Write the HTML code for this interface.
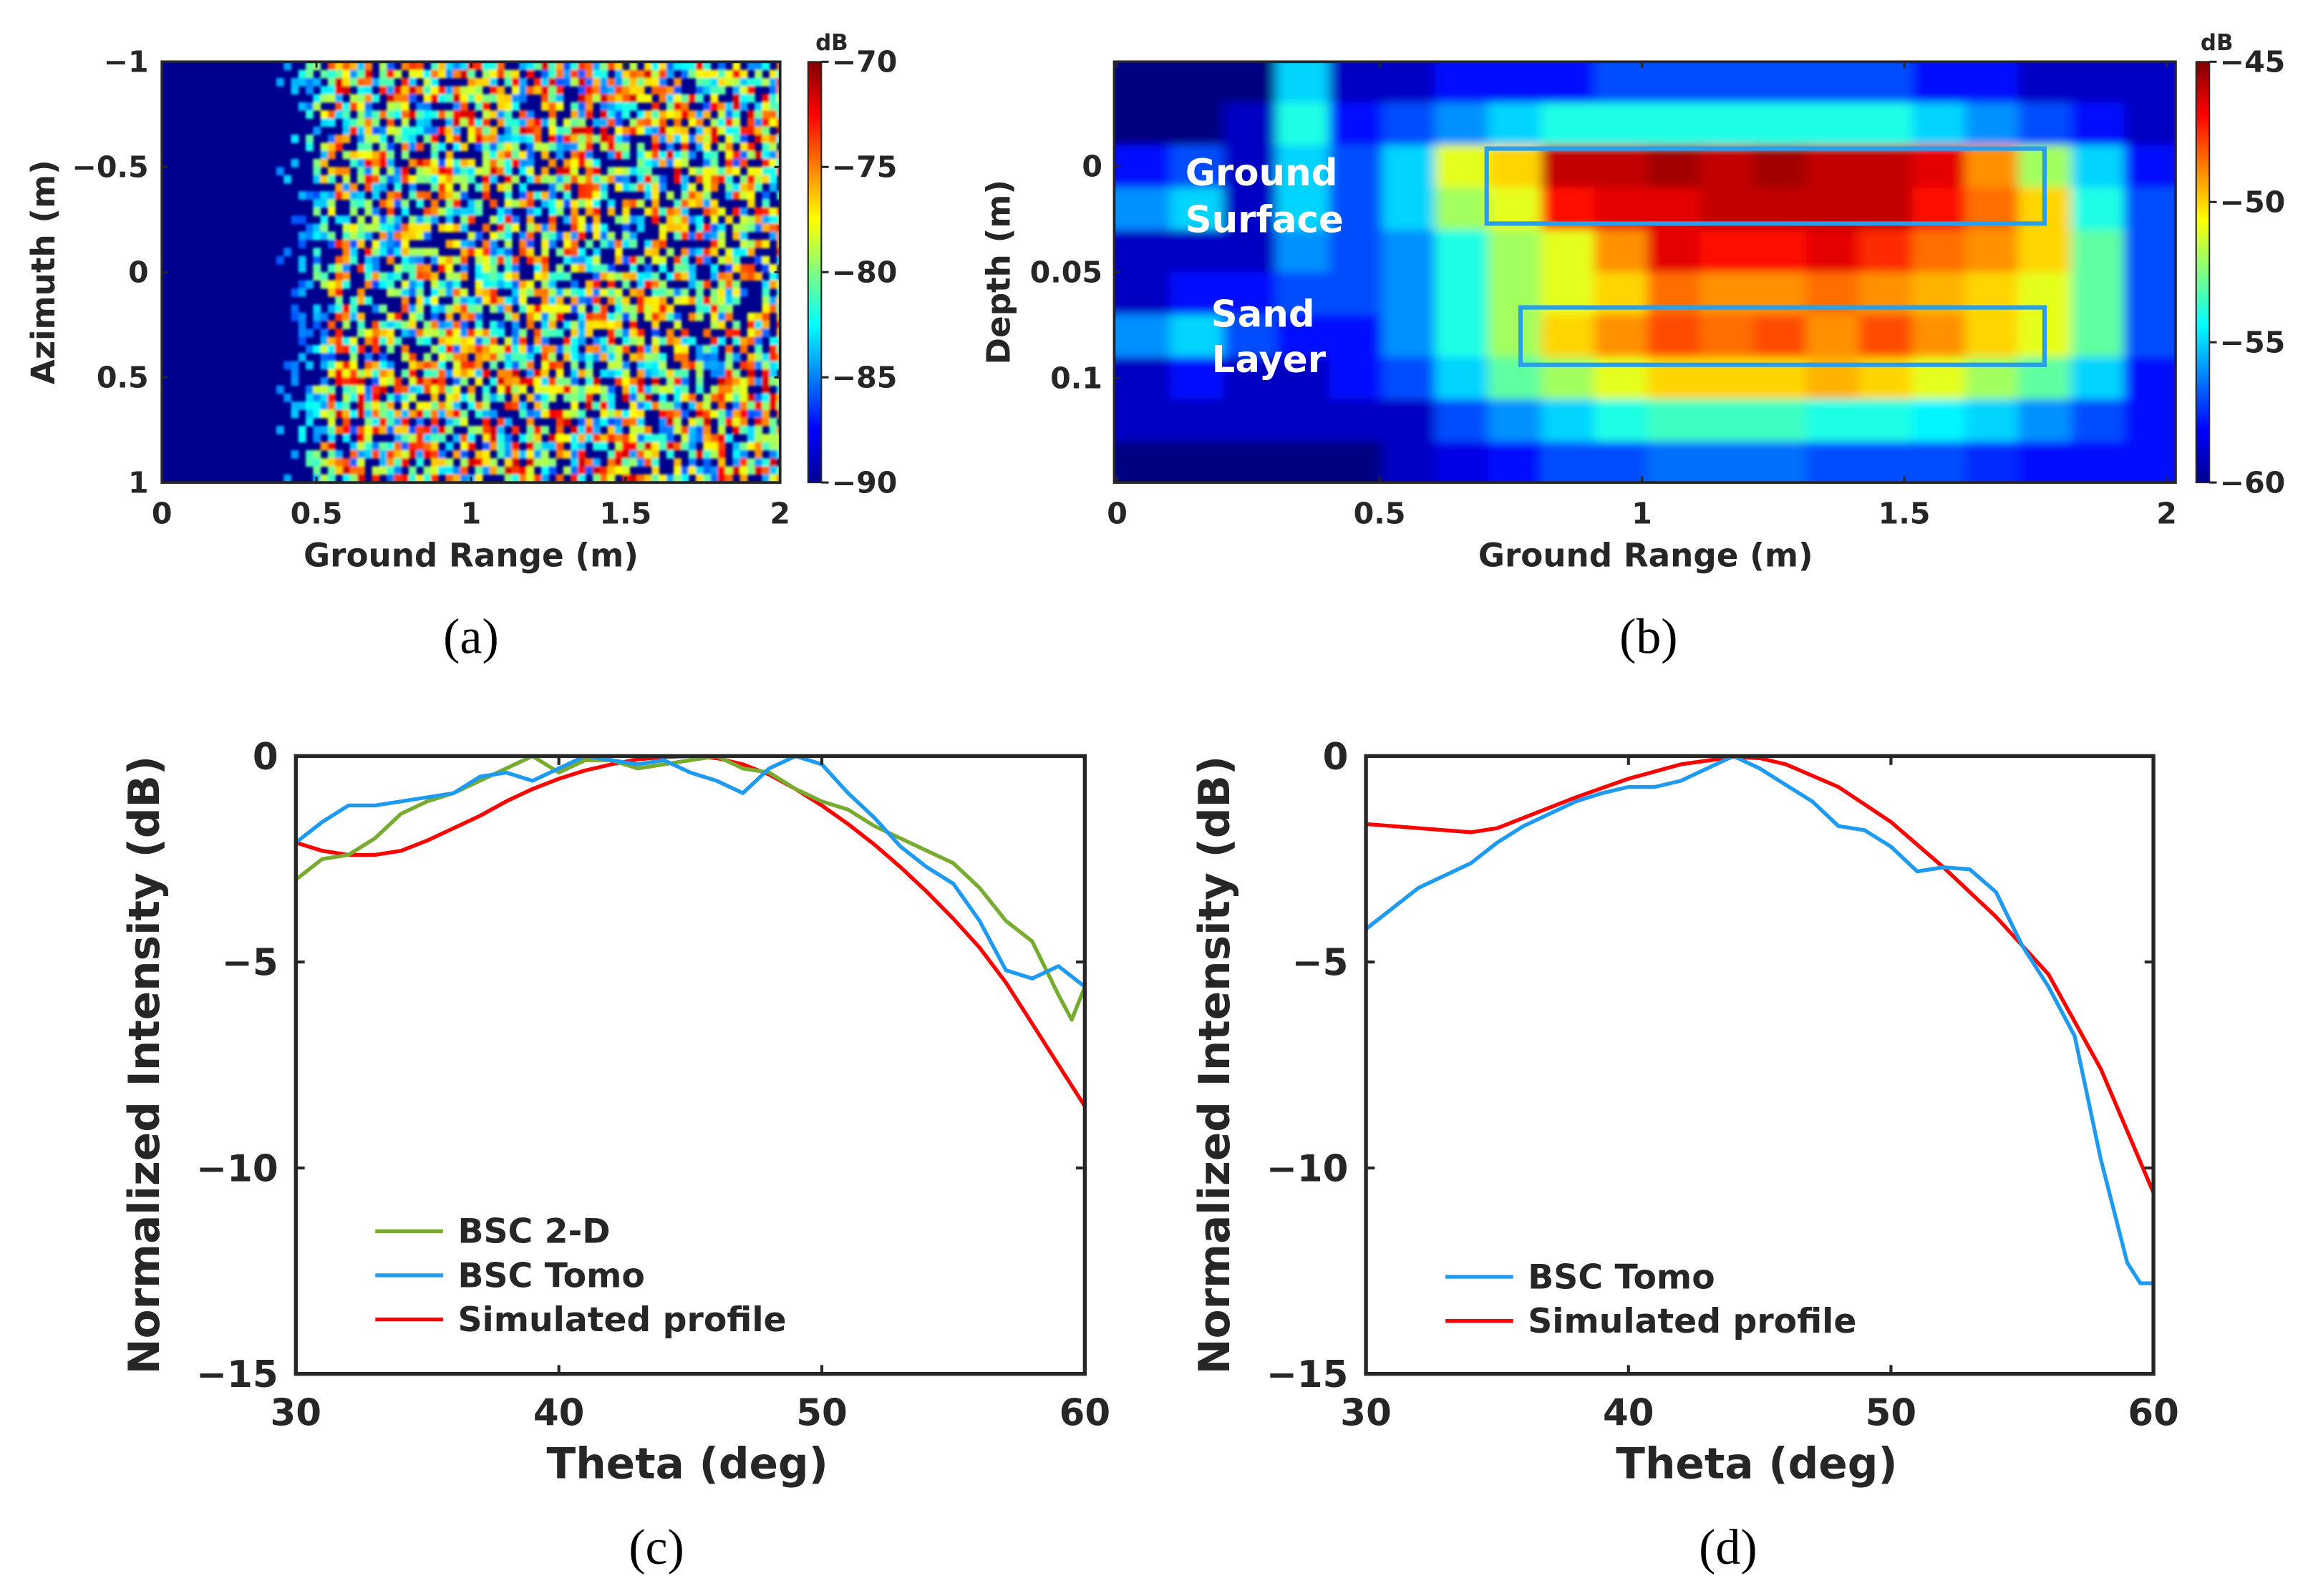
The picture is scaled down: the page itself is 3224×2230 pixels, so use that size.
<!DOCTYPE html>
<html><head><meta charset="utf-8">
<style>
html,body{margin:0;padding:0;background:#fff;}
svg{display:block;}
.tk{font-family:"DejaVu Sans","Liberation Sans",sans-serif;font-weight:bold;fill:#262626;}
.cap{font-family:"Liberation Serif","DejaVu Serif",serif;fill:#000;}
</style></head>
<body>
<svg id="fig" xmlns="http://www.w3.org/2000/svg" width="3224" height="2230" viewBox="0 0 1568 1085" preserveAspectRatio="none">
<defs>
<linearGradient id="jetV" x1="0" y1="1" x2="0" y2="0">
<stop offset="0" stop-color="#00008f"/><stop offset="0.125" stop-color="#0000ff"/><stop offset="0.375" stop-color="#00ffff"/><stop offset="0.625" stop-color="#ffff00"/><stop offset="0.875" stop-color="#ff0000"/><stop offset="1" stop-color="#800000"/>
</linearGradient>
<clipPath id="clipA"><rect x="110" y="42" width="420" height="286"/></clipPath>
<clipPath id="clipB"><rect x="757" y="42" width="721" height="286"/></clipPath>
<clipPath id="clipC"><rect x="201" y="514" width="536" height="420"/></clipPath>
<clipPath id="clipD"><rect x="928" y="514" width="535" height="420"/></clipPath>
<filter id="blurB" x="-5%" y="-5%" width="110%" height="110%"><feGaussianBlur stdDeviation="4 3"/></filter>
<filter id="blurA"><feGaussianBlur stdDeviation="0.9"/></filter>
</defs>
<g id="panelA"></g>
<g id="panelB"></g>
<g id="panelC"></g>
<g id="panelD"></g>
<text class="cap" x="320" y="444" font-size="34" text-anchor="middle">(a)</text>
<text class="cap" x="1120" y="444" font-size="34" text-anchor="middle">(b)</text>
<text class="cap" x="446" y="1063" font-size="34" text-anchor="middle">(c)</text>
<text class="cap" x="1174" y="1063" font-size="34" text-anchor="middle">(d)</text>
</svg>
<script>
// ---------- data ----------
const cThetaGreen = [30,31,32,33,34,35,36,37,38,39,40,41,42,43,44,45,46,47,48,49,50,51,52,53,54,55,56,57,58,59,59.5,60];
const cGreen = [-3.0,-2.5,-2.4,-2.0,-1.4,-1.1,-0.9,-0.6,-0.3,0,-0.4,-0.1,-0.1,-0.3,-0.2,-0.1,0,-0.3,-0.4,-0.8,-1.1,-1.3,-1.7,-2.0,-2.3,-2.6,-3.2,-4.0,-4.5,-5.8,-6.4,-5.6];
const cThetaBlue = [30,31,32,33,34,35,36,37,38,39,40,41,42,43,44,45,46,47,48,49,50,51,52,53,54,55,56,57,58,59,60];
const cBlue = [-2.1,-1.6,-1.2,-1.2,-1.1,-1.0,-0.9,-0.5,-0.4,-0.6,-0.3,0,-0.1,-0.2,-0.1,-0.4,-0.6,-0.9,-0.3,0,-0.2,-0.9,-1.5,-2.2,-2.7,-3.1,-4.0,-5.2,-5.4,-5.1,-5.6];
const cThetaRed = [30,31,32,33,34,35,36,37,38,39,40,41,42,43,44,45,46,47,48,49,50,51,52,53,54,55,56,57,58,59,60];
const cRed = [-2.1,-2.3,-2.4,-2.4,-2.3,-2.05,-1.75,-1.45,-1.1,-0.8,-0.55,-0.35,-0.2,-0.08,-0.02,0,-0.05,-0.2,-0.45,-0.8,-1.2,-1.65,-2.15,-2.7,-3.3,-3.95,-4.65,-5.5,-6.5,-7.5,-8.5];
const dThetaRed = [30,32,34,35,36,38,40,42,44,45,46,48,50,52,54,56,58,60];
const dRed = [-1.65,-1.75,-1.85,-1.75,-1.5,-1.0,-0.55,-0.2,-0.02,-0.05,-0.2,-0.75,-1.6,-2.7,-3.9,-5.3,-7.6,-10.6];
const dThetaBlue = [30,31,32,33,34,35,36,37,38,39,40,41,42,43,44,45,46,47,48,49,50,51,52,53,54,55,56,57,58,59,59.5,60];
const dBlue = [-4.2,-3.7,-3.2,-2.9,-2.6,-2.1,-1.7,-1.4,-1.1,-0.9,-0.75,-0.75,-0.6,-0.3,0,-0.3,-0.7,-1.1,-1.7,-1.8,-2.2,-2.8,-2.7,-2.75,-3.3,-4.6,-5.6,-6.8,-9.8,-12.3,-12.8,-12.8];
const thetaTicks = [30,40,50,60];
const dbTicks = [0,-5,-10,-15];
const dbTickLabels = ["0","\u22125","\u221210","\u221215"];
// panel b coarse backscatter grid (dB), rows = depth -0.05..0.15, cols = range 0..2 m
const bRows = [
[-60,-60,-60,-55,-59,-59,-58,-58,-58,-57,-57,-57,-57,-57,-57,-58,-58,-59,-59,-59],
[-60,-60,-59,-54,-58,-57,-56,-55,-54,-54,-54,-54,-54,-54,-54,-55,-56,-57,-58,-59],
[-58,-57,-59,-55,-57,-55,-51,-50,-46,-46,-45.5,-46,-45.5,-46,-46,-46.5,-49,-52,-55,-58],
[-56,-55,-59,-55,-57,-55,-52,-51,-47,-46.5,-46.5,-46,-46,-46,-46,-47,-48.5,-50,-54,-57],
[-59,-59,-59,-56,-57,-56,-54,-52,-51,-49,-46.5,-47,-47,-46.5,-47.5,-48.5,-49,-50,-53,-57],
[-59,-58,-58,-57,-57,-56,-54,-52,-51,-50,-48.5,-49,-49,-48.5,-49,-49.5,-50,-51,-53,-57],
[-56,-55,-57,-58,-58,-56,-54,-52,-50,-49,-48,-48.5,-48,-49,-48,-49,-50,-51,-53,-57],
[-59,-58,-59,-59,-58,-57,-55,-53,-52,-51,-50,-50,-50,-49.5,-50,-51,-52,-53,-55,-58],
[-59,-59,-59,-59,-59,-59,-57,-56,-55,-54,-53.5,-53.5,-53.5,-54,-54,-54.5,-55,-56,-57,-58],
[-60,-60,-60,-60,-60,-59,-58.5,-58,-57,-57,-56.5,-56.5,-56.5,-57,-57,-57,-57.5,-58,-58,-58]];
const aRangeTicks = [0,0.5,1,1.5,2];
const aRangeLabels = ["0","0.5","1","1.5","2"];
const aAzTicks = [-1,-0.5,0,0.5,1];
const aAzLabels = ["\u22121","\u22120.5","0","0.5","1"];
const aCbTicks = [-70,-75,-80,-85,-90];
const bDepthTicks = [0,0.05,0.1];
const bDepthLabels = ["0","0.05","0.1"];
const bCbTicks = [-45,-50,-55,-60];

// ---------- helpers ----------
const NS="http://www.w3.org/2000/svg";
function mk(tag,parent,attrs){const e=document.createElementNS(NS,tag);for(const k in attrs)e.setAttribute(k,attrs[k]);parent.appendChild(e);return e;}
function jet(t){t=Math.max(0,Math.min(1,t));const c=v=>Math.round(255*Math.max(0,Math.min(1,v)));
return `rgb(${c(1.5-Math.abs(4*t-3))},${c(1.5-Math.abs(4*t-2))},${c(1.5-Math.abs(4*t-1))})`;}
function lin(d0,d1,r0,r1){return v=>r0+(v-d0)/(d1-d0)*(r1-r0);}
const AX="#262626";

// ---------- panel A ----------
(function(){
const g=document.getElementById('panelA');
const X=lin(0,2,110,530), Y=lin(-1,1,42,328), CB=lin(-70,-90,42,328);
const img=mk('g',g,{'clip-path':'url(#clipA)'});


mk('rect',img,{x:110,y:42,width:420,height:286,fill:'#00008f'});
const tex=mk('g',img,{filter:'url(#blurA)'});
// speckle texture (deterministic seed)
let s=12345;const rnd=()=>{s=(s*1103515245+12345)%2147483648;return s/2147483648;};
const cw=5, ch=5.5;
for(let yy=42;yy<328;yy+=ch){
  for(let xx=X(0.37);xx<530;xx+=cw){
    const xm=(xx-110)/210;
    let edge=xm<0.55?Math.max(0,(xm-0.37)/0.18):1;
    const v=rnd();
    const band=(Math.abs((yy-185)/143)>0.45)?0.08:0;
    if(v<0.3-band || v>0.3+edge*0.7+0.05) continue;
    const t=0.2+(v-0.3)*0.95*Math.max(0.4,edge)+band;
    mk('rect',tex,{x:xx.toFixed(1),y:yy.toFixed(1),width:cw+0.3,height:ch+0.3,fill:jet(Math.min(t,0.92))});
  }
}
mk('rect',g,{x:110,y:42,width:420,height:286,fill:'none',stroke:AX,'stroke-width':1.8});
aRangeTicks.forEach((v,i)=>{
  mk('line',g,{x1:X(v),x2:X(v),y1:328,y2:324,stroke:AX,'stroke-width':1.5});
  mk('line',g,{x1:X(v),x2:X(v),y1:42,y2:46,stroke:AX,'stroke-width':1.5});
  const t=mk('text',g,{class:'tk',x:X(v),y:356,'font-size':20,'text-anchor':'middle'});t.textContent=aRangeLabels[i];
  
});
aAzTicks.forEach((v,i)=>{
  mk('line',g,{x1:110,x2:114,y1:Y(v),y2:Y(v),stroke:AX,'stroke-width':1.5});
  mk('line',g,{x1:530,x2:526,y1:Y(v),y2:Y(v),stroke:AX,'stroke-width':1.5});
  const t=mk('text',g,{class:'tk',x:101,y:Y(v)+7,'font-size':20,'text-anchor':'end'});t.textContent=aAzLabels[i];
  
});
let t=mk('text',g,{class:'tk',x:320,y:385,'font-size':22,'text-anchor':'middle'});t.textContent='Ground Range (m)';

t=mk('text',g,{class:'tk',x:37,y:185,'font-size':22,'text-anchor':'middle',transform:'rotate(-90 37 185)'});t.textContent='Azimuth (m)';

const cb=mk('rect',g,{x:549,y:42,width:9,height:286,fill:'url(#jetV)',stroke:AX,'stroke-width':1});

aCbTicks.forEach(v=>{
  mk('line',g,{x1:558,x2:563,y1:CB(v),y2:CB(v),stroke:AX,'stroke-width':1.5});
  const tt=mk('text',g,{class:'tk',x:565,y:CB(v)+7,'font-size':20});tt.textContent='\u2212'+Math.abs(v);
  
});
t=mk('text',g,{class:'tk',x:554,y:34,'font-size':15});t.textContent='dB';

})();

// ---------- panel B ----------
(function(){
const g=document.getElementById('panelB');
const X=lin(0,2,759,1472), Y=lin(0,0.1,113,257), CB=lin(-45,-60,42,328);
const img=mk('g',g,{'clip-path':'url(#clipB)'});


mk('rect',img,{x:740,y:20,width:760,height:330,fill:'#0000c0'});
const cells=mk('g',img,{filter:'url(#blurB)'});
const nr=bRows.length, nc=bRows[0].length;
for(let r=0;r<nr;r++)for(let c=0;c<nc;c++){
  const d0=-0.05+r*0.2/nr, x0=c*2.02/nc;
  let x=X(x0), w=X(x0+2.02/nc)-x;
  if(c===0){x-=20;w+=20;} if(c===nc-1)w+=20;
  let y=Y(d0), h=Y(d0+0.2/nr)-y;
  if(r===0){y-=10;h+=10;} if(r===nr-1)h+=10;
  const cell=mk('rect',cells,{x:x.toFixed(1),y:y.toFixed(1),width:(w+0.5).toFixed(1),height:(h+0.5).toFixed(1),fill:jet((bRows[r][c]+60)/15)});
  
  
}
const b1=mk('rect',g,{x:1010,y:101,width:379,height:51,fill:'none',stroke:'#2a9fe8','stroke-width':3});

const b2=mk('rect',g,{x:1033,y:209,width:356,height:39,fill:'none',stroke:'#2a9fe8','stroke-width':3});

[['Ground',857,126],['Surface',859,158],['Sand',858,222],['Layer',862,253]].forEach(a=>{
  const tt=mk('text',g,{x:a[1],y:a[2],'font-size':25,'text-anchor':'middle',fill:'#fff','font-weight':'bold','font-family':'"DejaVu Sans",sans-serif'});tt.textContent=a[0];
  
});
mk('rect',g,{x:757,y:42,width:721,height:286,fill:'none',stroke:AX,'stroke-width':1.8});
aRangeTicks.forEach((v,i)=>{
  mk('line',g,{x1:X(v),x2:X(v),y1:328,y2:324,stroke:AX,'stroke-width':1.5});
  mk('line',g,{x1:X(v),x2:X(v),y1:42,y2:46,stroke:AX,'stroke-width':1.5});
  const t=mk('text',g,{class:'tk',x:X(v),y:356,'font-size':20,'text-anchor':'middle'});t.textContent=aRangeLabels[i];
  
});
bDepthTicks.forEach((v,i)=>{
  mk('line',g,{x1:757,x2:761,y1:Y(v),y2:Y(v),stroke:AX,'stroke-width':1.5});
  const t=mk('text',g,{class:'tk',x:749,y:Y(v)+7,'font-size':20,'text-anchor':'end'});t.textContent=bDepthLabels[i];
  
});
let t=mk('text',g,{class:'tk',x:1118,y:385,'font-size':22,'text-anchor':'middle'});t.textContent='Ground Range (m)';

t=mk('text',g,{class:'tk',x:686,y:185,'font-size':22,'text-anchor':'middle',transform:'rotate(-90 686 185)'});t.textContent='Depth (m)';

const cb=mk('rect',g,{x:1492,y:42,width:9,height:286,fill:'url(#jetV)',stroke:AX,'stroke-width':1});

bCbTicks.forEach(v=>{
  mk('line',g,{x1:1501,x2:1506,y1:CB(v),y2:CB(v),stroke:AX,'stroke-width':1.5});
  const tt=mk('text',g,{class:'tk',x:1508,y:CB(v)+7,'font-size':20});tt.textContent='\u2212'+Math.abs(v);
  
});
t=mk('text',g,{class:'tk',x:1495,y:34,'font-size':15});t.textContent='dB';

})();

// ---------- line panels ----------
function linePanel(id,x0,x1,clip,series,legend,legY){
const g=document.getElementById(id);
const X=lin(30,60,x0,x1), Y=lin(0,-15,514,934);
const lg=mk('g',g,{'clip-path':'url(#'+clip+')'});
series.forEach(s=>{
  const p=mk('polyline',lg,{points:s.x.map((v,i)=>X(v).toFixed(1)+','+Y(s.y[i]).toFixed(1)).join(' '),fill:'none',stroke:s.color,'stroke-width':2.6,'stroke-linejoin':'round'});
  
  
});
mk('rect',g,{x:x0,y:514,width:x1-x0,height:420,fill:'none',stroke:AX,'stroke-width':2.6});
thetaTicks.forEach(v=>{
  mk('line',g,{x1:X(v),x2:X(v),y1:934,y2:928,stroke:AX,'stroke-width':2});
  mk('line',g,{x1:X(v),x2:X(v),y1:514,y2:520,stroke:AX,'stroke-width':2});
  const t=mk('text',g,{class:'tk',x:X(v),y:969,'font-size':25,'text-anchor':'middle'});t.textContent=String(v);
  
});
dbTicks.forEach((v,i)=>{
  mk('line',g,{x1:x0,x2:x0+6,y1:Y(v),y2:Y(v),stroke:AX,'stroke-width':2});
  mk('line',g,{x1:x1,x2:x1-6,y1:Y(v),y2:Y(v),stroke:AX,'stroke-width':2});
  const t=mk('text',g,{class:'tk',x:x0-12,y:Y(v)+9,'font-size':25,'text-anchor':'end'});t.textContent=dbTickLabels[i];
  
});
const cx=(x0+x1)/2;
let t=mk('text',g,{class:'tk',x:cx-2,y:1005,'font-size':29,'text-anchor':'middle'});t.textContent='Theta (deg)';

const ly=x0-93;
t=mk('text',g,{class:'tk',x:ly,y:724,'font-size':29,'text-anchor':'middle',transform:`rotate(-90 ${ly} 724)`});t.textContent='Normalized Intensity (dB)';

legend.forEach((L,i)=>{
  const y=legY+i*30;
  const e=mk('g',g,{});
  
  
  mk('line',e,{x1:x0+54,x2:x0+100,y1:y,y2:y,stroke:L[1],'stroke-width':2.6});
  const tt=mk('text',e,{class:'tk',x:x0+110,y:y+8,'font-size':23});tt.textContent=L[0];
});
}
linePanel('panelC',201,737,'clipC',[
 {x:cThetaRed,y:cRed,color:'#ff0000',name:'simulated-profile-line'},
 {x:cThetaGreen,y:cGreen,color:'#77ac30',name:'bsc-2d-line'},
 {x:cThetaBlue,y:cBlue,color:'#1e9bf0',name:'bsc-tomo-line'}],
 [['BSC 2-D','#77ac30'],['BSC Tomo','#1e9bf0'],['Simulated profile','#ff0000']],837);
linePanel('panelD',928,1463,'clipD',[
 {x:dThetaRed,y:dRed,color:'#ff0000',name:'simulated-profile-line'},
 {x:dThetaBlue,y:dBlue,color:'#1e9bf0',name:'bsc-tomo-line'}],
 [['BSC Tomo','#1e9bf0'],['Simulated profile','#ff0000']],868);
</script>
</body></html>
